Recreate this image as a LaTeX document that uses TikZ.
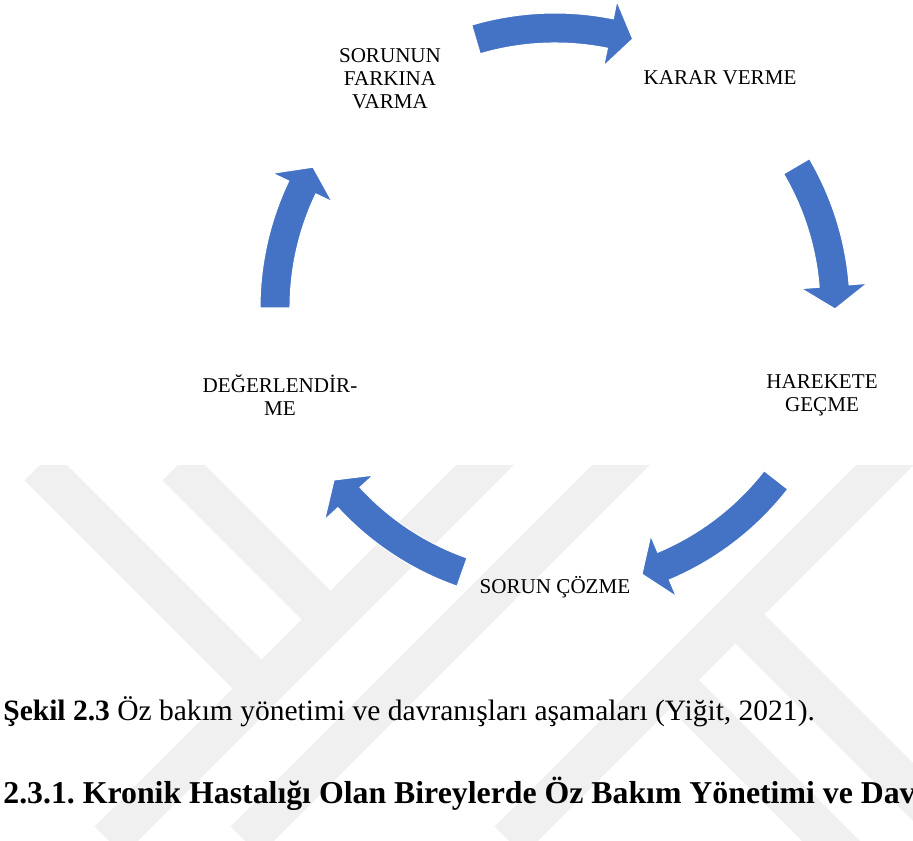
\documentclass[tikz,border=0pt]{standalone}
\usepackage{fontspec}
\setmainfont{Liberation Serif}
\usetikzlibrary{positioning}
\definecolor{arrowblue}{HTML}{4472C4}
\definecolor{markgray}{HTML}{F0F0F0}
\frenchspacing

\begin{document}
\begin{tikzpicture}[x=0.02cm, y=0.02cm, every node/.style={font=\fontsize{12}{13}\selectfont, align=center, inner sep=0pt}]
    \useasboundingbox (0,0) rectangle (913,841);
    % watermark behind the figure
    \begin{scope}
        \clip (0,0) rectangle (913,375);
        \foreach \s in {950,1086,1350}
            \draw[markgray, line width=0.82cm] (\s-841,0) -- (\s,841);
        \draw[markgray, line width=0.82cm] (39,375) -- (261.5,152.5);
        \draw[markgray, line width=0.82cm] (177,375) -- (330.5,221.5);
        \draw[markgray, line width=0.82cm] (735.5,226.5) -- (1000,-38);
        \draw[markgray, line width=0.82cm] (670,161) -- (900,-69);
    \end{scope}
    % cycle
    \coordinate (cyc) at (555,533);
    \node (farkina) at (390,762) {SORUNUN\\FARKINA\\VARMA};
    \node (karar) at (720,763) {KARAR VERME};
    \node (harekete) at (822,446) {HAREKETE\\GEÇME};
    \node (cozme) at (555,254) {SORUN ÇÖZME};
    \node (degerlendirme) at (280,446) {DEĞERLENDİR-\\ME};
    \begin{scope}[shift={(cyc)}]
        \foreach \tl/\tp in {106.4/73.9, 30.4/-0.2, -37.9/-71.9, -109.4/-142.1, 180/149.8}
            \filldraw[fill=arrowblue, draw=white, line width=0.6pt]
                (\tl:295) arc[start angle=\tl, end angle=\tp+4.7, radius=295]
                -- (\tp+4.7:313) -- (\tp:280) -- (\tp+4.7:247) -- (\tp+4.7:265)
                arc[start angle=\tp+4.7, end angle=\tl, radius=265] -- cycle;
    \end{scope}
    % caption and next heading
    \node[anchor=base west, font=\fontsize{16.8}{19}\selectfont] (caption) at (3,120)
        {\textbf{Şekil 2.3} Öz bakım yönetimi ve davranışları aşamaları (Yiğit, 2021).};
    \begin{scope}
        \clip (0,0) rectangle (913,841);
        \node[anchor=base west, font=\fontsize{18.1}{20}\selectfont\bfseries] (heading) at (3,37)
            {2.3.1. Kronik Hastalığı Olan Bireylerde Öz Bakım Yönetimi ve Davranışları};
    \end{scope}
\end{tikzpicture}
\end{document}
